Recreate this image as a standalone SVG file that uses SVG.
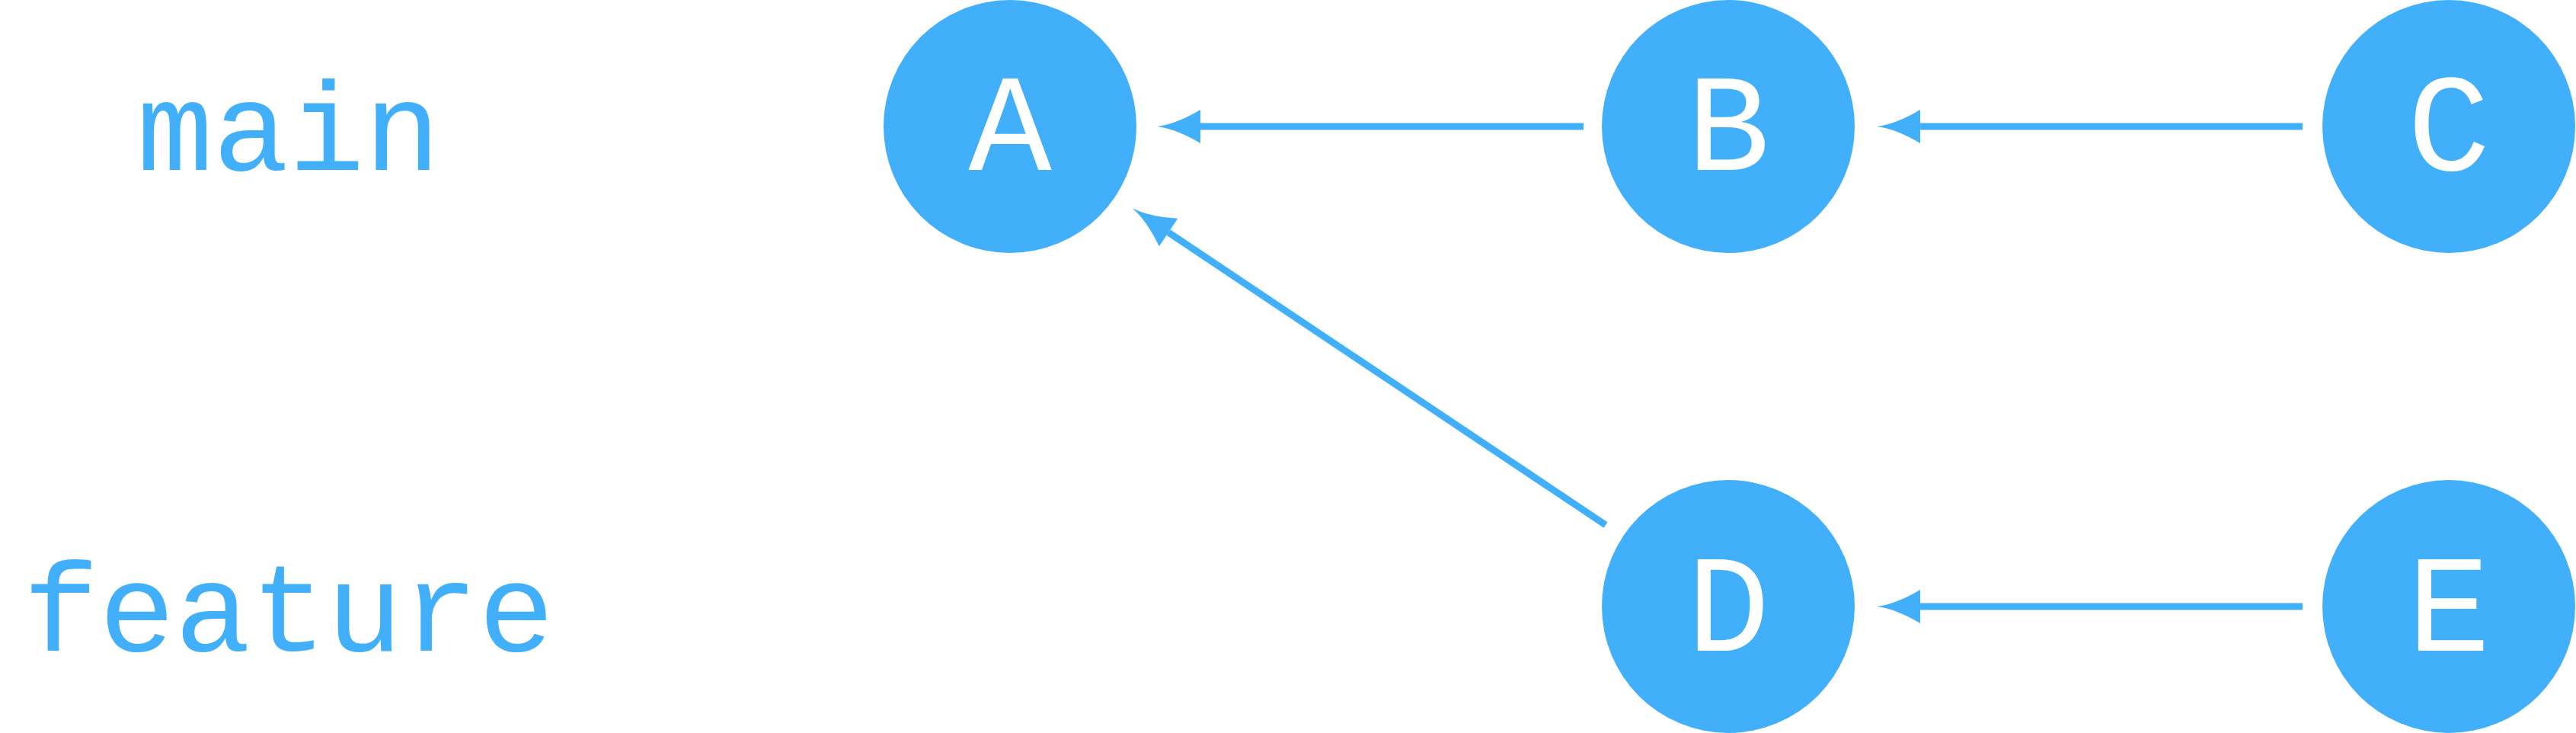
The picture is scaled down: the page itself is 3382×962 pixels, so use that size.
<svg xmlns="http://www.w3.org/2000/svg" width="3382" height="962" viewBox="0 0 3382 962">
<style>
.node{fill:#42AFFA}
.lbl{fill:#ffffff;font-family:"Liberation Mono","Courier New",monospace;font-size:182px;text-anchor:middle}
.branch{fill:#42AFFA;font-family:"Liberation Mono","Courier New",monospace;font-size:166px;text-anchor:middle}
.edge{stroke:#42AFFA;stroke-width:9;fill:none}
</style>
<defs>
<marker id="arr" markerUnits="userSpaceOnUse" viewBox="-2 -24 62 48" markerWidth="62" markerHeight="48" refX="0" refY="0" orient="auto" overflow="visible">
<path d="M57,0 Q32,3 0,22 L0,-22 Q32,-3 57,0Z" fill="#42AFFA"/>
</marker>
</defs>
<rect width="3382" height="962" fill="#ffffff"/>
<text class="branch" x="379" y="223">main</text>
<text class="branch" x="379" y="854">feature</text>
<g id="connectors">
<line class="edge" x1="2079" y1="166" x2="1576" y2="166" marker-end="url(#arr)"/>
<line class="edge" x1="3023" y1="166" x2="2521" y2="166" marker-end="url(#arr)"/>
<line class="edge" x1="3023" y1="796" x2="2521" y2="796" marker-end="url(#arr)"/>
<line class="edge" x1="2108" y1="689" x2="1534" y2="305" marker-end="url(#arr)"/>
</g>
<g id="A"><circle class="node" cx="1326" cy="166" r="166"/><text class="lbl" x="1326" y="223">A</text></g>
<g id="B"><circle class="node" cx="2269" cy="166" r="166"/><text class="lbl" x="2269" y="223">B</text></g>
<g id="C"><circle class="node" cx="3215" cy="166" r="166"/><text class="lbl" x="3215" y="223">C</text></g>
<g id="D"><circle class="node" cx="2269" cy="796" r="166"/><text class="lbl" x="2269" y="854">D</text></g>
<g id="E"><circle class="node" cx="3215" cy="796" r="166"/><text class="lbl" x="3215" y="854">E</text></g>
</svg>
